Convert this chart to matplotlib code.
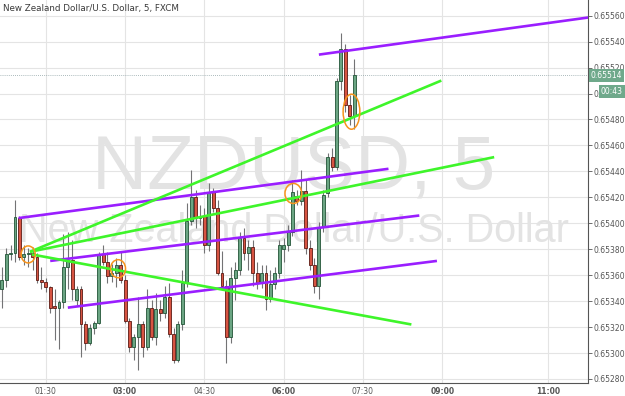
import matplotlib
matplotlib.use('Agg')
import matplotlib.pyplot as plt
import matplotlib.patches as patches
import matplotlib.transforms as mtrans
import numpy as np

# NZDUSD 5 minute bars, first bar at 00:40
bar_start = 40
bar_step = 5
opens = [0.65349, 0.65356, 0.65376, 0.65377, 0.65404, 0.65374, 0.65376, 0.65377, 0.65374, 0.65356,
         0.65355, 0.65351, 0.65336, 0.65335, 0.65339, 0.65366, 0.65372, 0.65341, 0.65349, 0.65322,
         0.65308, 0.65319, 0.65323, 0.65376, 0.65370, 0.65359, 0.65362, 0.65368, 0.65356, 0.65325,
         0.65305, 0.65312, 0.65322, 0.65305, 0.65335, 0.65312, 0.65334, 0.65331, 0.65343, 0.65315,
         0.65295, 0.65322, 0.65354, 0.65402, 0.65420, 0.65404, 0.65406, 0.65383, 0.65424, 0.65412,
         0.65362, 0.65352, 0.65312, 0.65358, 0.65364, 0.65389, 0.65377, 0.65382, 0.65362, 0.65354,
         0.65362, 0.65342, 0.65353, 0.65362, 0.65380, 0.65383, 0.65393, 0.65421, 0.65417, 0.65425,
         0.65381, 0.65368, 0.65352, 0.65397, 0.65423, 0.65451, 0.65443, 0.65510, 0.65534, 0.65491,
         0.65483]
highs = [0.65366, 0.65381, 0.65383, 0.65418, 0.65406, 0.65383, 0.65381, 0.65382, 0.65377, 0.65366,
         0.65358, 0.65352, 0.65349, 0.65341, 0.65392, 0.65393, 0.65387, 0.65352, 0.65352, 0.65325,
         0.65322, 0.65325, 0.65378, 0.65383, 0.65378, 0.65369, 0.65373, 0.65379, 0.65360, 0.65327,
         0.65315, 0.65343, 0.65325, 0.65349, 0.65341, 0.65346, 0.65341, 0.65352, 0.65354, 0.65319,
         0.65325, 0.65364, 0.65416, 0.65441, 0.65426, 0.65414, 0.65412, 0.65431, 0.65427, 0.65418,
         0.65379, 0.65356, 0.65366, 0.65370, 0.65393, 0.65396, 0.65387, 0.65387, 0.65370, 0.65368,
         0.65368, 0.65364, 0.65366, 0.65387, 0.65389, 0.65399, 0.65433, 0.65426, 0.65441, 0.65433,
         0.65387, 0.65373, 0.65401, 0.65426, 0.65454, 0.65458, 0.65512, 0.65547, 0.65538, 0.65499,
         0.65527]
lows = [0.65335, 0.65351, 0.65372, 0.65370, 0.65372, 0.65368, 0.65366, 0.65364, 0.65354, 0.65349,
        0.65347, 0.65331, 0.65310, 0.65303, 0.65335, 0.65349, 0.65341, 0.65337, 0.65297, 0.65302,
        0.65306, 0.65315, 0.65322, 0.65368, 0.65354, 0.65355, 0.65351, 0.65354, 0.65323, 0.65301,
        0.65295, 0.65287, 0.65297, 0.65302, 0.65310, 0.65306, 0.65325, 0.65327, 0.65312, 0.65292,
        0.65293, 0.65318, 0.65351, 0.65399, 0.65396, 0.65399, 0.65377, 0.65379, 0.65409, 0.65360,
        0.65349, 0.65292, 0.65308, 0.65341, 0.65360, 0.65372, 0.65364, 0.65352, 0.65349, 0.65350,
        0.65333, 0.65339, 0.65349, 0.65358, 0.65370, 0.65379, 0.65390, 0.65414, 0.65414, 0.65376,
        0.65364, 0.65346, 0.65342, 0.65393, 0.65420, 0.65440, 0.65441, 0.65503, 0.65486, 0.65476,
        0.65473]
closes = [0.65356, 0.65376, 0.65377, 0.65405, 0.65374, 0.65376, 0.65377, 0.65374, 0.65356, 0.65355,
          0.65351, 0.65335, 0.65335, 0.65339, 0.65366, 0.65372, 0.65349, 0.65349, 0.65322, 0.65308,
          0.65319, 0.65323, 0.65376, 0.65370, 0.65359, 0.65362, 0.65368, 0.65356, 0.65325, 0.65305,
          0.65312, 0.65322, 0.65305, 0.65335, 0.65312, 0.65334, 0.65331, 0.65343, 0.65315, 0.65295,
          0.65322, 0.65354, 0.65402, 0.65420, 0.65404, 0.65406, 0.65383, 0.65424, 0.65412, 0.65362,
          0.65352, 0.65312, 0.65358, 0.65364, 0.65389, 0.65377, 0.65382, 0.65362, 0.65354, 0.65362,
          0.65342, 0.65353, 0.65362, 0.65383, 0.65383, 0.65393, 0.65424, 0.65417, 0.65425, 0.65381,
          0.65368, 0.65352, 0.65397, 0.65422, 0.65451, 0.65443, 0.65510, 0.65534, 0.65491, 0.65483,
          0.65514]

# drawn trend lines: (start time, start price, end time, end price)
purple_lines = [("00:59", 0.65404, "07:59", 0.65442),
                ("01:35", 0.65371, "08:34", 0.65406),
                ("01:55", 0.65335, "08:54", 0.65371),
                ("06:40", 0.65530, "12:22", 0.65562)]
green_lines = [("01:12", 0.65378, "08:59", 0.65510),
               ("01:12", 0.65378, "09:59", 0.65451),
               ("01:14", 0.65376, "08:25", 0.65322)]
# hand drawn circles: (centre time, centre price, width min, height price)
circles = [("01:10", 0.65376, 16, 0.000131),
           ("02:52", 0.65365, 17, 0.000139),
           ("06:11", 0.65423, 19, 0.000154),
           ("07:17", 0.65486, 19, 0.000270)]

time_ticks = ["01:30", "03:00", "04:30", "06:00", "07:30", "09:00", "11:00"]
price_ticks = np.arange(0.65280, 0.655601, 0.0002)
last_price = 0.65514
countdown = "00:43"

def minutes(s):
    h, m = s.split(":")
    return int(h) * 60 + int(m)

up_fill, up_edge = '#6ba583', '#225437'
dn_fill, dn_edge = '#d75442', '#5b1a13'

fig = plt.figure(figsize=(6.25, 3.96), dpi=100)
ax = fig.add_axes([0, 13 / 396, 588 / 625, 383 / 396])
ax.set_xlim(38, 705.5)
ax.set_ylim(0.652769, 0.655721)

# grid
for t in time_ticks:
    ax.axvline(minutes(t), color='#e4e4e4', lw=0.8, zorder=0)
for p in price_ticks:
    ax.axhline(p, color='#e4e4e4', lw=0.8, zorder=0)

# watermark
ax.text(0.5, 0.56, "NZDUSD, 5", transform=ax.transAxes, ha='center', va='center',
        fontsize=55, family='Liberation Sans', color='#e3e3e3', zorder=0)
ax.text(0.5, 0.397, "New Zealand Dollar/U.S. Dollar", transform=ax.transAxes, ha='center',
        va='center', fontsize=28.5, family='Liberation Sans', color='#e3e3e3', zorder=0)

# candles
t = bar_start + bar_step * np.arange(len(opens))
o = np.array(opens); h = np.array(highs); l = np.array(lows); c = np.array(closes)
up = c >= o
ax.vlines(t, l, h, color='#737375', lw=0.8, zorder=2)
ax.bar(t[up], (c - o)[up], bottom=o[up], width=3.3, color=up_fill, edgecolor=up_edge,
       linewidth=0.6, zorder=3)
ax.bar(t[~up], (o - c)[~up], bottom=c[~up], width=3.3, color=dn_fill, edgecolor=dn_edge,
       linewidth=0.6, zorder=3)

# last price
ax.axhline(last_price, color='#8fa3a6', lw=0.6, ls=(0, (1, 1.5)), zorder=1)

# trend lines
for t0, p0, t1, p1 in purple_lines:
    ax.plot([minutes(t0), minutes(t1)], [p0, p1], color='#9a1eff', lw=1.9, zorder=4,
            solid_capstyle='butt')
for t0, p0, t1, p1 in green_lines:
    ax.plot([minutes(t0), minutes(t1)], [p0, p1], color='#3ef52a', lw=1.9, zorder=4,
            solid_capstyle='butt')
for tc, pc, w, hh in circles:
    ax.add_patch(patches.Ellipse((minutes(tc), pc), w, hh, fill=False, edgecolor='#f7941d',
                                 lw=1.1, zorder=5))

# axes styling
for s in ['left', 'top']:
    ax.spines[s].set_visible(False)
for s in ['right', 'bottom']:
    ax.spines[s].set_color('#555555')
    ax.spines[s].set_linewidth(0.8)
ax.yaxis.tick_right()
ax.set_yticks(price_ticks)
ax.set_yticklabels(['%.5f' % p for p in price_ticks])
ax.tick_params(axis='y', length=3, width=0.6, color='#555555', labelsize=5.5,
               labelcolor='#555555', pad=1)
ax.set_xticks([minutes(s) for s in time_ticks])
ax.set_xticklabels(time_ticks)
for lab, s in zip(ax.get_xticklabels(), time_ticks):
    if s.endswith(':00'):
        lab.set_fontweight('bold')
ax.tick_params(axis='x', length=0, labelsize=5.5, labelcolor='#555555', pad=3)

# price label on the scale
tr = mtrans.blended_transform_factory(ax.transAxes, ax.transData)
ax.text(1.005, last_price, "0.65514", transform=tr, ha='left', va='center', fontsize=5.5,
        color='white', bbox=dict(boxstyle='square,pad=0.25', fc='#6fa98b', ec='none'),
        clip_on=False, zorder=6)
ax.text(1.022, last_price - 0.000125, countdown, transform=tr, ha='left', va='center',
        fontsize=5.5, color='white',
        bbox=dict(boxstyle='square,pad=0.25', fc='#6fa98b', ec='none'), clip_on=False, zorder=6)

fig.text(3 / 625, 1 - 8 / 396, "New Zealand Dollar/U.S. Dollar, 5, FXCM", ha='left',
         va='center', fontsize=6.3, color='#3a3a3a')

fig.savefig('out.png', dpi=100)
